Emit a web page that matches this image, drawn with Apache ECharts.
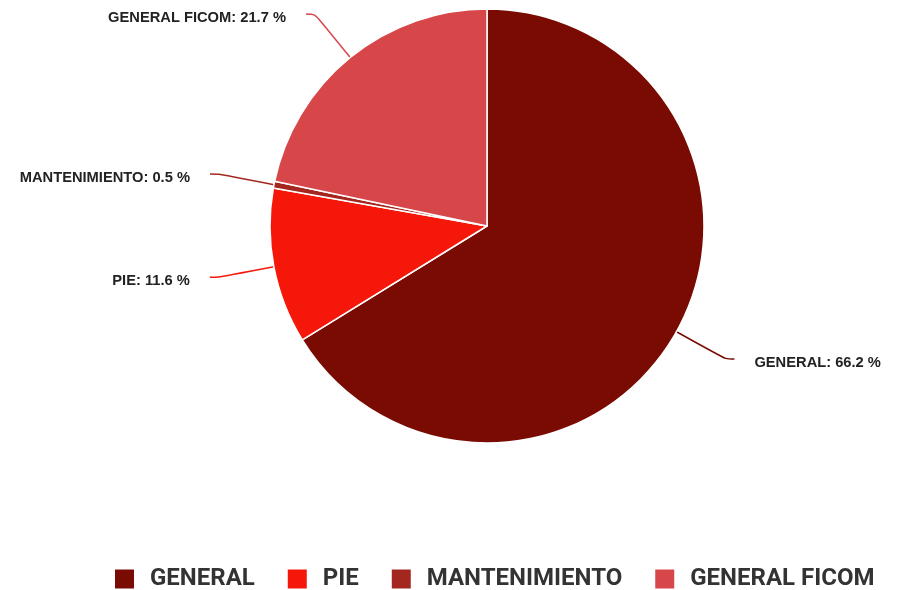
<!DOCTYPE html>
<html><head><meta charset="utf-8">
<script src="https://cdn.jsdelivr.net/npm/echarts@6/dist/echarts.min.js"></script>
<style>html,body{margin:0;padding:0;background:#fff}#c{width:897px;height:590px}</style>
</head><body><div id="c"></div>
<script>
const categories = ["GENERAL", "PIE", "MANTENIMIENTO", "GENERAL FICOM"];
const values = [66.2, 11.6, 0.5, 21.7];
const colors = ["#7a0b03", "#f5170a", "#a3271f", "#d7474a"];

const chart = echarts.init(document.getElementById('c'));
chart.setOption({
  animation: false,
  color: colors,
  legend: {
    top: 567,
    left: 113,
    padding: 0,
    itemWidth: 21,
    itemHeight: 21,
    itemGap: 31,
    icon: 'rect',
    data: categories.map(n => n === 'PIE' ? {name: n, textStyle: {padding: [0, 18, 0, 10]}} : {name: n}),
    textStyle: {fontFamily: 'Roboto, sans-serif', fontWeight: 'bold', fontSize: 24, color: '#333', padding: [0, 0, 0, 10]}
  },
  series: [{
    type: 'pie',
    center: [487, 226],
    radius: [0, 217],
    startAngle: 90,
    clockwise: true,
    data: categories.map((n, i) => ({name: n, value: values[i]})),
    itemStyle: {borderColor: '#fff', borderWidth: 1.5},
    label: {
      formatter: p => '{t|' + p.name + ': ' + p.value + ' %}',
      rich: {
        t: {
          fontFamily: '"Liberation Sans", Arial, sans-serif',
          fontWeight: 'bold', fontSize: 14.7, color: '#222',
          padding: [7, 0, 0, 0]
        }
      },
      distanceToLabelLine: 20
    },
    labelLine: {length: 56, length2: 9, smooth: 0.3, lineStyle: {width: 1.5}}
  }]
});
</script></body></html>
